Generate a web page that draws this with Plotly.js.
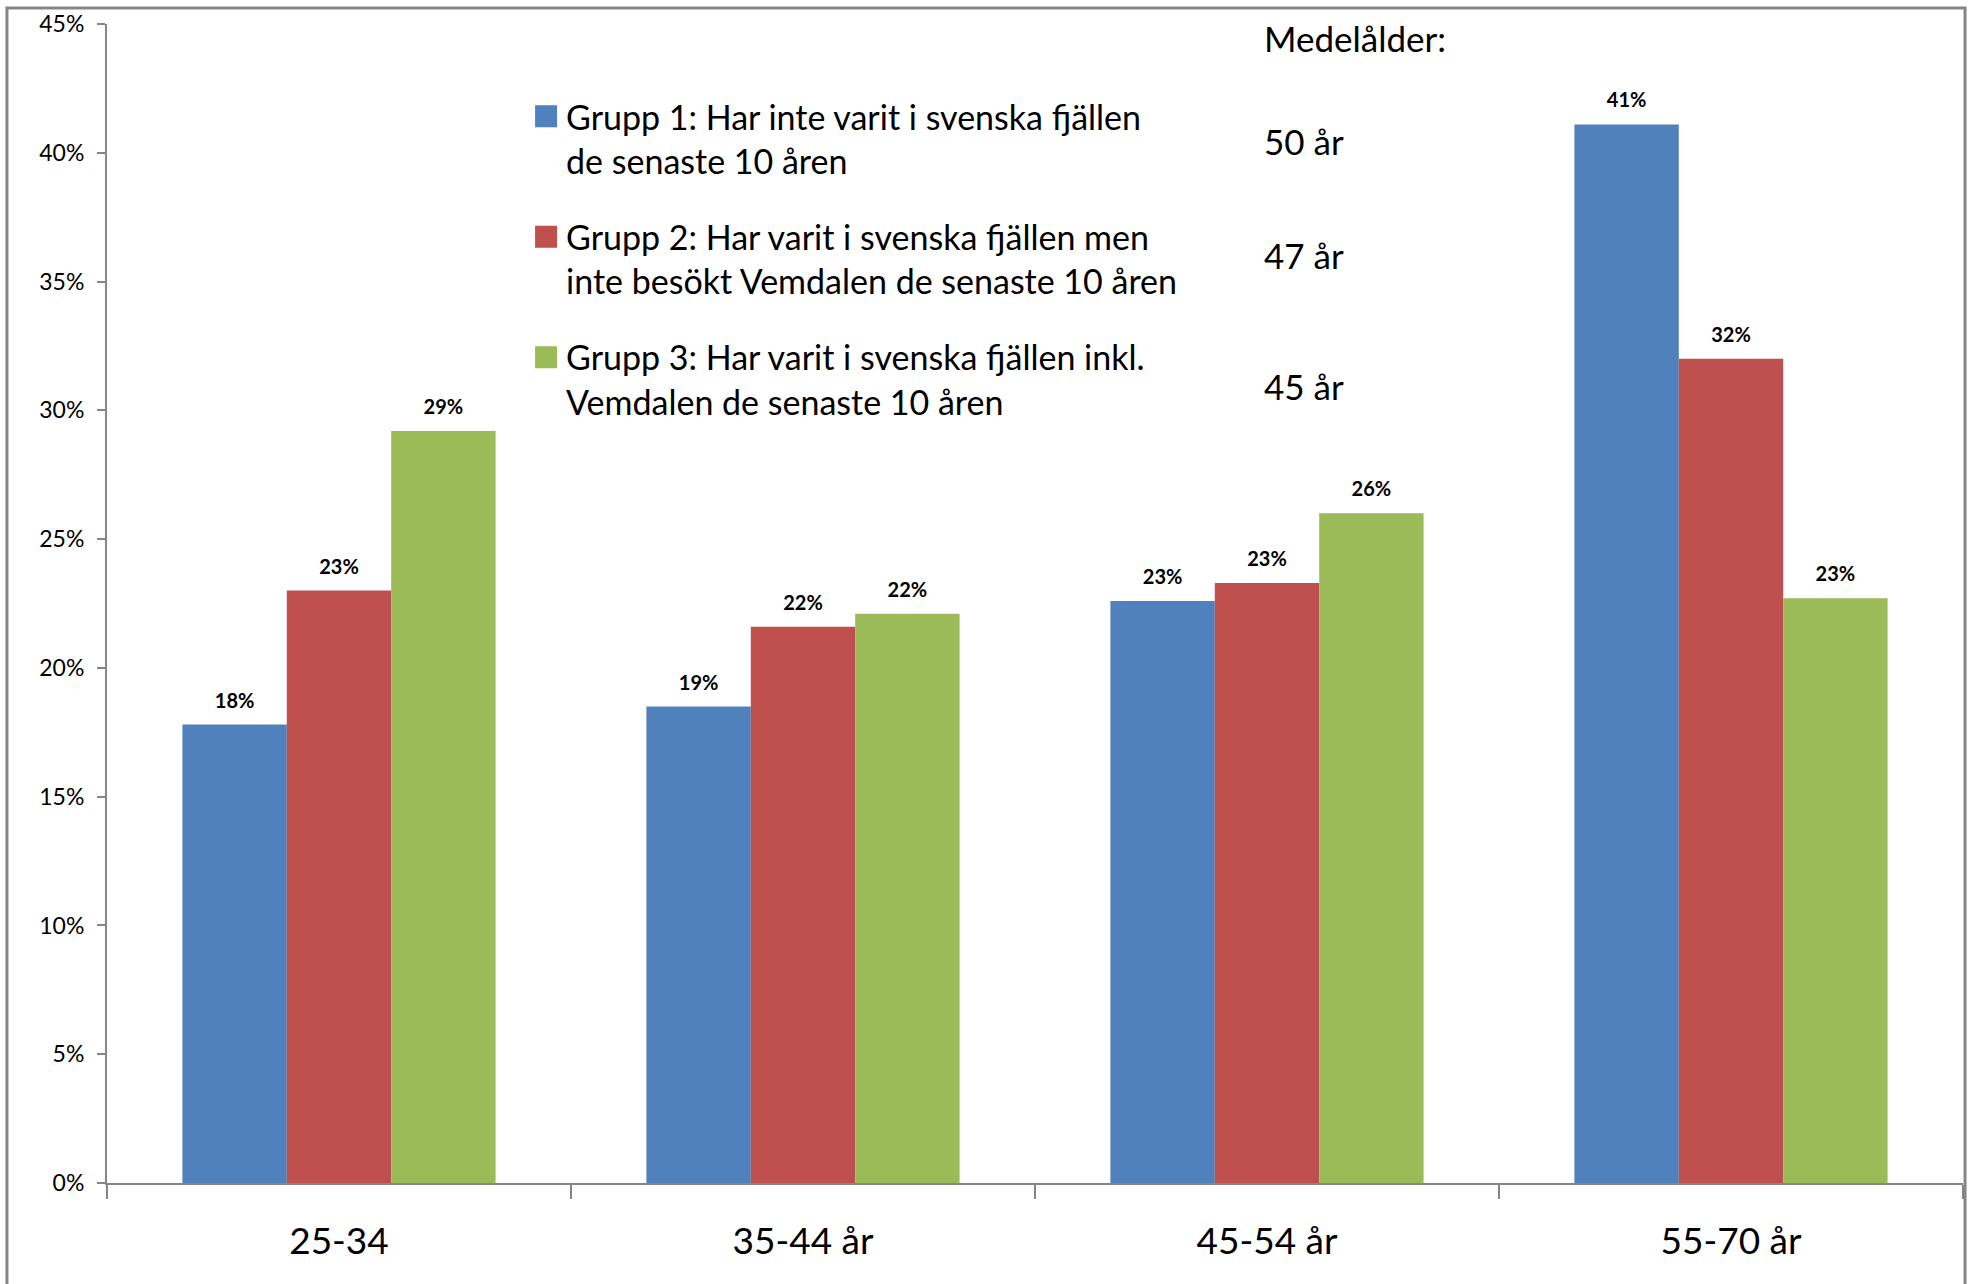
<!DOCTYPE html>
<html>
<head>
<meta charset="utf-8">
<script src="https://cdn.plot.ly/plotly-3.0.1.min.js"></script>
<style>
  html, body { margin: 0; padding: 0; background: #ffffff; }
  #chart { width: 1973px; height: 1284px; }
</style>
</head>
<body>
<div id="chart"></div>
<script>
// ---- Data ----
const categories = ['25-34', '35-44 år', '45-54 år', '55-70 år'];
const group1 = [0.178, 0.185, 0.226, 0.411];
const group2 = [0.230, 0.216, 0.233, 0.320];
const group3 = [0.292, 0.221, 0.260, 0.227];
const seriesNames = [
  'Grupp 1: Har inte varit i svenska fjällen<br>de senaste 10 åren',
  'Grupp 2: Har varit i svenska fjällen men<br>inte besökt Vemdalen de senaste 10 åren',
  'Grupp 3: Har varit i svenska fjällen inkl.<br>Vemdalen de senaste 10 åren'
];
const meanAgeTitle = 'Medelålder:';
const meanAges = [50, 47, 45];
const seriesColors = ['#4F81BD', '#C0504D', '#9BBB59'];

const FONT = 'Lato, "Liberation Sans", Arial, sans-serif';
const values = [group1, group2, group3];

const traces = values.map((v, i) => ({
  type: 'bar',
  x: categories,
  y: v,
  name: seriesNames[i],
  legendgroup: 'g' + i,
  marker: { color: seriesColors[i], line: { width: 0 } },
  texttemplate: '%{y:.0%}',
  textposition: 'outside',
  cliponaxis: false,
  textfont: { family: FONT, size: 20, color: '#000000', weight: 'bold' },
  hoverinfo: 'skip'
}));

// mean age annotations (paper positions aligned with legend rows)
const ageRowsY = [0.8991, 0.8009, 0.6879];
const annotations = [{
  xref: 'paper', yref: 'paper', x: 0.6225, y: 0.9875,
  xanchor: 'left', yanchor: 'middle', showarrow: false,
  text: meanAgeTitle, font: { family: FONT, size: 35, color: '#000000' }
}].concat(meanAges.map((a, i) => ({
  xref: 'paper', yref: 'paper', x: 0.6225, y: ageRowsY[i],
  xanchor: 'left', yanchor: 'middle', showarrow: false,
  text: a + ' år', font: { family: FONT, size: 35, color: '#000000' }
})));

const layout = {
  width: 1973, height: 1284,
  margin: { l: 107, r: 10, t: 24, b: 101 },
  paper_bgcolor: '#ffffff', plot_bgcolor: '#ffffff',
  font: { family: FONT, color: '#000000' },
  barmode: 'group',
  bargap: 0.325,
  bargroupgap: 0,
  showlegend: true,
  legend: {
    x: 0.2258, xanchor: 'left', y: 0.945, yanchor: 'top',
    font: { family: FONT, size: 34, color: '#000000' },
    valign: 'top', tracegroupgap: 29, traceorder: 'grouped',
    bgcolor: 'rgba(0,0,0,0)', borderwidth: 0
  },
  xaxis: {
    type: 'category',
    showline: true, linecolor: '#868686', linewidth: 2,
    ticks: 'outside', tickson: 'boundaries', ticklen: 14, tickwidth: 2, tickcolor: '#868686',
    tickfont: { family: FONT, size: 37, color: '#000000' },
    ticklabelstandoff: 25,
    showgrid: false, zeroline: false, fixedrange: true
  },
  yaxis: {
    range: [0, 0.45], dtick: 0.05, tick0: 0, tickformat: '.0%',
    showline: true, linecolor: '#868686', linewidth: 2,
    ticks: 'outside', ticklen: 8, tickwidth: 2, tickcolor: '#868686',
    tickfont: { family: FONT, size: 23, color: '#000000' },
    ticklabelstandoff: 8,
    showgrid: false, zeroline: false, fixedrange: true
  },
  shapes: [{
    type: 'rect', xref: 'paper', yref: 'paper',
    x0: -0.0539, x1: 1.0011, y0: -0.1, y1: 1.0138,
    line: { color: '#868686', width: 3 }, fillcolor: 'rgba(0,0,0,0)', layer: 'above'
  }],
  annotations: annotations
};

Plotly.newPlot('chart', traces, layout, { staticPlot: true, displayModeBar: false }).then(() => {
  document.querySelectorAll('.legend .legendpoints path').forEach(p => {
    p.setAttribute('d', 'M11,11H-11V-11H11Z');
  });
  document.querySelectorAll('.bartext').forEach(t => {
    const tr = t.getAttribute('transform') || '';
    t.setAttribute('transform', 'translate(0,-10) ' + tr);
  });
});
</script>
</body>
</html>
